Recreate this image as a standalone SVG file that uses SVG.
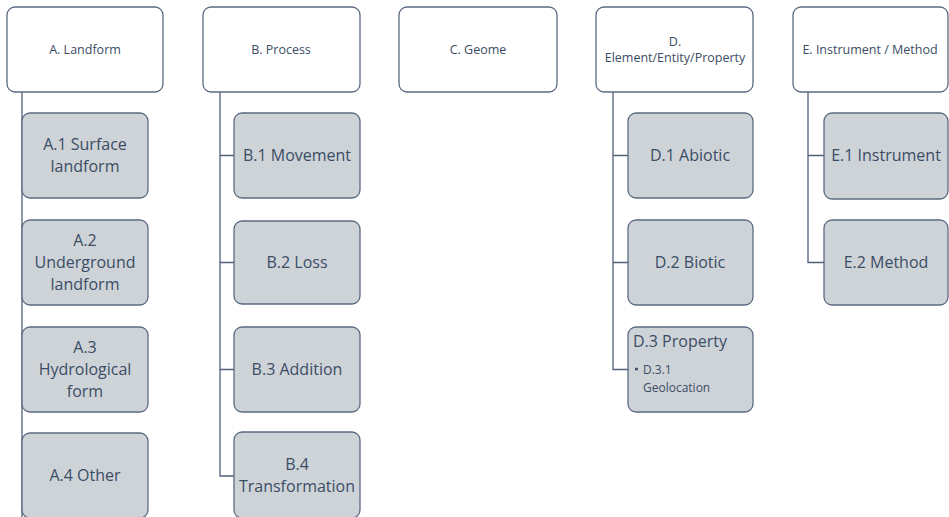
<svg xmlns="http://www.w3.org/2000/svg" width="949" height="517" viewBox="0 0 949 517">
<style>
.p{fill:#ffffff;stroke:#5b6b80;stroke-width:1.3}
.c{fill:#ced3d8;stroke:#5b6b80;stroke-width:1.3}
.t{font-family:"Open Sans","Noto Sans",sans-serif;fill:#3b4d65;text-anchor:middle}
.s{font-family:"Open Sans","Noto Sans",sans-serif;fill:#3b4d65;text-anchor:start}
.ps{font-size:12.5px}
.cs{font-size:16px}
.ss{font-size:12px}
.l{fill:none;stroke:#4f6078;stroke-width:1.3}
</style>
<rect width="949" height="517" fill="#ffffff"/>
<g id="connectors">
<path class="l" d="M22 92V517"/>
<path class="l" d="M220 92V476H234M220 155.5H234M220 262.5H234M220 369.5H234"/>
<path class="l" d="M613 92V369.5H628M613 155.5H628M613 262.5H628"/>
<path class="l" d="M808 92V262.5H824M808 155.5H824"/>
</g>
<g id="A"><rect class="p" x="7" y="7" width="156" height="85" rx="8"/><text class="t ps" x="85" y="54">A. Landform</text></g>
<g id="A1"><rect class="c" x="22" y="113" width="126" height="85" rx="8"/><text class="t cs" x="85" y="150">A.1 Surface</text><text class="t cs" x="85" y="172">landform</text></g>
<g id="A2"><rect class="c" x="22" y="220" width="126" height="85" rx="8"/><text class="t cs" x="85" y="246">A.2</text><text class="t cs" x="85" y="268">Underground</text><text class="t cs" x="85" y="290">landform</text></g>
<g id="A3"><rect class="c" x="22" y="327" width="126" height="85" rx="8"/><text class="t cs" x="85" y="353">A.3</text><text class="t cs" x="85" y="375">Hydrological</text><text class="t cs" x="85" y="397">form</text></g>
<g id="A4"><rect class="c" x="22" y="433" width="126" height="85" rx="8"/><text class="t cs" x="85" y="481">A.4 Other</text></g>
<g id="B"><rect class="p" x="203" y="7" width="157" height="85" rx="8"/><text class="t ps" x="281" y="54">B. Process</text></g>
<g id="B1"><rect class="c" x="234" y="113" width="126" height="85" rx="8"/><text class="t cs" x="297" y="161">B.1 Movement</text></g>
<g id="B2"><rect class="c" x="234" y="221" width="126" height="83" rx="8"/><text class="t cs" x="297" y="268">B.2 Loss</text></g>
<g id="B3"><rect class="c" x="234" y="327" width="126" height="85" rx="8"/><text class="t cs" x="297" y="375">B.3 Addition</text></g>
<g id="B4"><rect class="c" x="234" y="432" width="126" height="86" rx="8"/><text class="t cs" x="297" y="470">B.4</text><text class="t cs" x="297" y="492">Transformation</text></g>
<g id="C"><rect class="p" x="399" y="7" width="158" height="85" rx="8"/><text class="t ps" x="478" y="54">C. Geome</text></g>
<g id="D"><rect class="p" x="596" y="7" width="157" height="85" rx="8"/><text class="t ps" x="675" y="46">D.</text><text class="t ps" x="675" y="62">Element/Entity/Property</text></g>
<g id="D1"><rect class="c" x="628" y="113" width="125" height="85" rx="8"/><text class="t cs" x="690" y="161">D.1 Abiotic</text></g>
<g id="D2"><rect class="c" x="628" y="220" width="125" height="85" rx="8"/><text class="t cs" x="690" y="268">D.2 Biotic</text></g>
<g id="D3"><rect class="c" x="628" y="327" width="125" height="85" rx="8"/><text class="s cs" x="633" y="347">D.3 Property</text><circle cx="636.5" cy="369" r="1.6" fill="#3b4d65"/><text class="s ss" x="643" y="374">D.3.1</text><text class="s ss" x="643" y="392">Geolocation</text></g>
<g id="E"><rect class="p" x="793" y="7" width="155" height="85" rx="8"/><text class="t ps" x="870" y="54">E. Instrument / Method</text></g>
<g id="E1"><rect class="c" x="824" y="113" width="124" height="86" rx="8"/><text class="t cs" x="886" y="161">E.1 Instrument</text></g>
<g id="E2"><rect class="c" x="824" y="220" width="124" height="85" rx="8"/><text class="t cs" x="886" y="268">E.2 Method</text></g>
</svg>
